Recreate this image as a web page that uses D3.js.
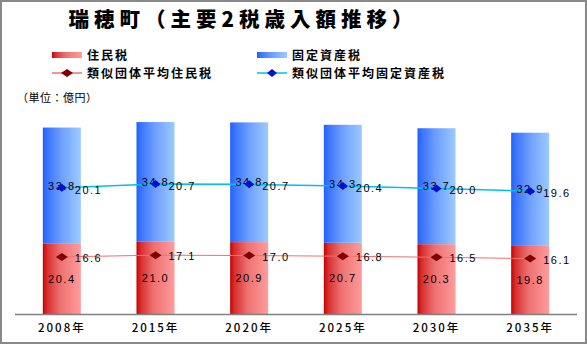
<!DOCTYPE html>
<html>
<head>
<meta charset="utf-8">
<script src="https://cdn.jsdelivr.net/npm/d3@7/dist/d3.min.js"></script>
<style>
  html, body { margin: 0; padding: 0; background: #fff; }
  svg { display: block; }
  .jp { font-family: "Noto Sans CJK JP", sans-serif; }
  .num { font-family: "Liberation Sans", Arial, sans-serif; }
</style>
</head>
<body>
<svg id="chart" width="587" height="344"></svg>
<script>
// Annual revenue of the two main municipal taxes (unit: 100 million yen)
const years = ["2008年", "2015年", "2020年", "2025年", "2030年", "2035年"];
const residentTax = [20.4, 21.0, 20.9, 20.7, 20.3, 19.8];
const propertyTax = [33.8, 34.8, 34.8, 34.3, 33.7, 32.9];
const avgResidentTax = [16.6, 17.1, 17.0, 16.8, 16.5, 16.1];
const avgPropertyTax = [20.1, 20.7, 20.7, 20.4, 20.0, 19.6];
const yTicks = [0, 60];

const svg = d3.select("#chart");
const W = 587, H = 344;

// gradients
const defs = svg.append("defs");
function grad(id, stops) {
  const g = defs.append("linearGradient").attr("id", id)
    .attr("x1", "0%").attr("x2", "100%").attr("y1", "0%").attr("y2", "0%");
  stops.forEach(([o, c]) => g.append("stop").attr("offset", o).attr("stop-color", c));
}
grad("gRed", [["0%", "#c80000"], ["12%", "#d83030"], ["45%", "#ee7070"], ["100%", "#ff9c9c"]]);
grad("gBlue", [["0%", "#2060ff"], ["12%", "#3a74ff"], ["50%", "#6fa0ff"], ["100%", "#9ccaff"]]);

// frame
svg.append("rect").attr("x", 1).attr("y", 1).attr("width", W - 2).attr("height", H - 2)
  .attr("fill", "#fff").attr("stroke", "#888").attr("stroke-width", 2);

// title
svg.append("text").attr("class", "jp")
  .attr("x", 243).attr("y", 27).attr("text-anchor", "middle")
  .attr("font-size", 20.5).attr("font-weight", 900).attr("letter-spacing", 5)
  .attr("fill", "#000")
  .text("瑞穂町（主要2税歳入額推移）");

// scales
const x = d3.scaleBand().domain(years).range([15, 577]).paddingInner(0.594).paddingOuter(0.297);
const y = d3.scaleLinear().domain(d3.extent(yTicks)).range([314, 314 - 60 * 3.44]);

const rows = years.map((yr, i) => ({
  yr,
  r: residentTax[i], p: propertyTax[i],
  ar: avgResidentTax[i], ap: avgPropertyTax[i],
  apStack: avgResidentTax[i] + avgPropertyTax[i]
}));

// stacked bars
const g = svg.append("g");
g.selectAll("rect.res").data(rows).join("rect").attr("class", "res")
  .attr("x", d => x(d.yr)).attr("width", x.bandwidth())
  .attr("y", d => y(d.r)).attr("height", d => y(0) - y(d.r))
  .attr("fill", "url(#gRed)");
g.selectAll("rect.prop").data(rows).join("rect").attr("class", "prop")
  .attr("x", d => x(d.yr)).attr("width", x.bandwidth())
  .attr("y", d => y(d.r + d.p)).attr("height", d => y(d.r) - y(d.r + d.p))
  .attr("fill", "url(#gBlue)");

// x axis
const xAxis = svg.append("g").attr("transform", `translate(0,${y(0)})`)
  .call(d3.axisBottom(x).tickSize(0).tickPadding(10));
xAxis.select(".domain").attr("d", "M15,0.5H577").attr("stroke", "#808080").attr("stroke-width", 1.5);
xAxis.selectAll("text").attr("class", "jp").attr("font-size", 11.5).attr("letter-spacing", 2)
  .attr("font-weight", 500).attr("fill", "#000").attr("font-family", "Noto Sans CJK JP, sans-serif");

const cx = d => x(d.yr) + x.bandwidth() / 2;

// average lines (property average stacked on resident average)
const lineRes = d3.line().x(cx).y(d => y(d.ar));
const lineProp = d3.line().x(cx).y(d => y(d.apStack));
svg.append("path").datum(rows).attr("d", lineRes)
  .attr("fill", "none").attr("stroke", "#f07070").attr("stroke-width", 1);
svg.append("path").datum(rows).attr("d", lineProp)
  .attr("fill", "none").attr("stroke", "#00c0f0").attr("stroke-width", 1.5);

function diamond(w, h) {
  return `M0,${-h / 2}L${w / 2},0L0,${h / 2}L${-w / 2},0Z`;
}

// bar value labels
const lbl = (sel) => sel.attr("class", "num").attr("font-size", 11)
  .attr("letter-spacing", 1.5).attr("fill", "#000");
svg.selectAll("text.rv").data(rows).join("text").call(lbl).attr("class", "num rv")
  .attr("x", cx).attr("y", d => y(d.r / 2) + 4).attr("text-anchor", "middle")
  .text(d => d.r.toFixed(1));
svg.selectAll("text.pv").data(rows).join("text").call(lbl).attr("class", "num pv")
  .attr("x", cx).attr("y", d => y(d.r + d.p / 2) + 4).attr("text-anchor", "middle")
  .text(d => d.p.toFixed(1));

// markers
svg.selectAll("path.mr").data(rows).join("path").attr("class", "mr")
  .attr("d", diamond(12, 8)).attr("fill", "#800000")
  .attr("transform", d => `translate(${cx(d)},${y(d.ar)})`);
svg.selectAll("path.mp").data(rows).join("path").attr("class", "mp")
  .attr("d", diamond(10, 8)).attr("fill", "#0010d0")
  .attr("transform", d => `translate(${cx(d)},${y(d.apStack)})`);

// line value labels
svg.selectAll("text.arv").data(rows).join("text").call(lbl).attr("class", "num arv")
  .attr("x", d => cx(d) + 13).attr("y", d => y(d.ar) + 5)
  .text(d => d.ar.toFixed(1));
svg.selectAll("text.apv").data(rows).join("text").call(lbl).attr("class", "num apv")
  .attr("x", d => cx(d) + 13).attr("y", d => y(d.apStack) + 6)
  .text(d => d.ap.toFixed(1));

// legend
const legend = [
  { label: "住民税", type: "bar", fill: "url(#gRed)", x: 52, y: 55 },
  { label: "固定資産税", type: "bar", fill: "url(#gBlue)", x: 257, y: 55 },
  { label: "類似団体平均住民税", type: "line", stroke: "#f07070", mark: "#800000", mw: 12, x: 52, y: 73 },
  { label: "類似団体平均固定資産税", type: "line", stroke: "#00c0f0", mark: "#0010d0", mw: 10, x: 257, y: 73 }
];
const lg = svg.append("g");
legend.forEach(d => {
  if (d.type === "bar") {
    lg.append("rect").attr("x", d.x).attr("y", d.y - 3).attr("width", 30).attr("height", 6).attr("fill", d.fill);
  } else {
    lg.append("line").attr("x1", d.x).attr("x2", d.x + 30).attr("y1", d.y).attr("y2", d.y)
      .attr("stroke", d.stroke).attr("stroke-width", 1.5);
    lg.append("path").attr("d", diamond(d.mw, 8)).attr("fill", d.mark)
      .attr("transform", `translate(${d.x + 15},${d.y})`);
  }
  lg.append("text").attr("class", "jp").attr("x", d.x + 35).attr("y", d.y + 4.5)
    .attr("font-size", 12).attr("letter-spacing", 2).attr("font-weight", 600).attr("fill", "#000")
    .text(d.label);
});

// unit note
svg.append("text").attr("class", "jp").attr("x", 17).attr("y", 102)
  .attr("font-size", 11).attr("letter-spacing", 0.5).attr("fill", "#000")
  .text("（単位：億円）");
</script>
</body>
</html>
